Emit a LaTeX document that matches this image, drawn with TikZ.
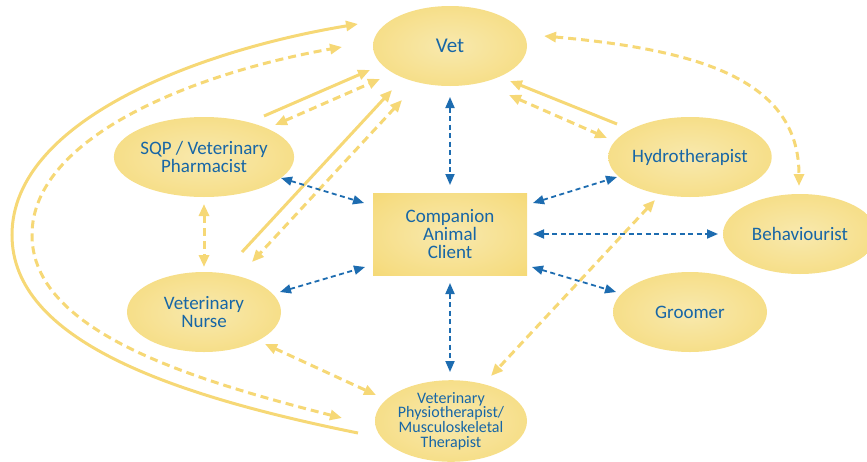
\documentclass[tikz,border=0pt]{standalone}
\usepackage{fontspec}
\setmainfont{Carlito}
\usetikzlibrary{arrows.meta,calc,shapes.geometric}
\definecolor{ytext}{HTML}{1766A6}
\definecolor{ylight}{HTML}{F8E9AE}
\definecolor{ymid}{HTML}{F6DD84}
\definecolor{yedge}{HTML}{F3D35F}
\definecolor{yarrow}{HTML}{F6D876}
\definecolor{barrow}{HTML}{1D6CB0}
\pgfdeclareradialshading{ellshade}{\pgfpoint{0bp}{0bp}}{color(0bp)=(ylight); color(28bp)=(ymid); color(48bp)=(yedge); color(50bp)=(yedge)}
\pgfdeclareradialshading{rectshade}{\pgfpoint{0bp}{0bp}}{color(0bp)=(ylight); color(28bp)=(ymid); color(48bp)=(yedge); color(75bp)=(yedge)}
\tikzset{
  ell/.style={ellipse, minimum width=154pt, minimum height=80pt, inner sep=0pt,
    shading=ellshade, text=ytext, align=center, font=\fontsize{19}{18}\selectfont},
  clientbox/.style={rectangle, minimum width=154pt, minimum height=82pt, inner sep=0pt,
    shading=rectshade, text=ytext, align=center, font=\fontsize{19}{18}\selectfont},
  yarr/.style={draw=yarrow, line width=3pt, -{Triangle[length=12pt,width=10pt]}},
  ydash/.style={draw=yarrow, line width=3pt, dash pattern=on 8pt off 5pt,
    {Triangle[length=12pt,width=10pt]}-{Triangle[length=12pt,width=10pt]}},
  bdash/.style={draw=barrow, line width=1.8pt, dash pattern=on 5pt off 3.5pt,
    {Triangle[length=11pt,width=9pt]}-{Triangle[length=11pt,width=9pt]}},
}
\begin{document}
\begin{tikzpicture}[x=1pt,y=-1pt]
\useasboundingbox (0,0) rectangle (867,461);
\clip (0,0) rectangle (867,461);

\node[ell, font=\fontsize{21}{20}\selectfont] (vet) at (450,46) {Vet};
\node[ell] (sqp) at (204,157) {SQP / Veterinary\\Pharmacist};
\node[ell] (hydro) at (690,157) {Hydrotherapist};
\node[clientbox] (client) at (450,234) {Companion\\Animal\\Client};
\node[ell] (beh) at (800,234) {Behaviourist};
\node[ell] (groom) at (690,312) {Groomer};
\node[ell] (nurse) at (204,312) {Veterinary\\Nurse};
\node[ell, minimum width=152pt, font=\fontsize{16}{14.7}\selectfont] (physio) at (451,421)
  {Veterinary\\Physiotherapist/\\Musculoskeletal\\Therapist};

% yellow connectors
\draw[yarr] ($(physio)+(-93,12)$) .. controls (170,395) and (12,340) .. (12,235)
  .. controls (12,120) and (200,50) .. ($(vet)+(-92,-22)$);
\draw[ydash] ($(physio)+(-109,-3)$) .. controls (185,378) and (32,330) .. (32,235)
  .. controls (32,135) and (200,72) .. ($(vet)+(-108,1)$);
\draw[yarr] ($(sqp)+(60,-41)$) -- ($(vet)+(-80,24)$);
\draw[ydash] ($(sqp)+(71,-32)$) -- ($(vet)+(-70,33)$);
\draw[yarr] ($(nurse)+(38,-60)$) -- ($(vet)+(-58,44)$);
\draw[ydash] ($(vet)+(-48,54)$) -- ($(nurse)+(48,-50)$);
\draw[ydash] ($(sqp)+(0,47)$) -- ($(nurse)+(0,-45)$);
\draw[yarr] ($(hydro)+(-73,-33)$) -- ($(vet)+(60,35)$);
\draw[ydash] ($(vet)+(59,49)$) -- ($(hydro)+(-83,-19)$);
\draw[ydash] ($(vet)+(94,-10)$) .. controls (700,50) and (799,80) .. ($(beh)+(-1,-48)$);
\draw[ydash] ($(hydro)+(-35,43)$) -- ($(physio)+(40,-45)$);
\draw[ydash] ($(nurse)+(61,32)$) -- ($(physio)+(-75,-26)$);

% blue connectors
\draw[bdash] ($(vet)+(0,51)$) -- ($(client)+(0,-49)$);
\draw[bdash] ($(sqp)+(77,21)$) -- ($(client)+(-86,-31)$);
\draw[bdash] ($(client)+(83,-31)$) -- ($(hydro)+(-73,20)$);
\draw[bdash] ($(client)+(83,0)$) -- ($(beh)+(-82,0)$);
\draw[bdash] ($(nurse)+(76,-20)$) -- ($(client)+(-85,33)$);
\draw[bdash] ($(client)+(82,33)$) -- ($(groom)+(-74,-20)$);
\draw[bdash] ($(client)+(0,49)$) -- ($(physio)+(-1,-49)$);
\end{tikzpicture}
\end{document}
